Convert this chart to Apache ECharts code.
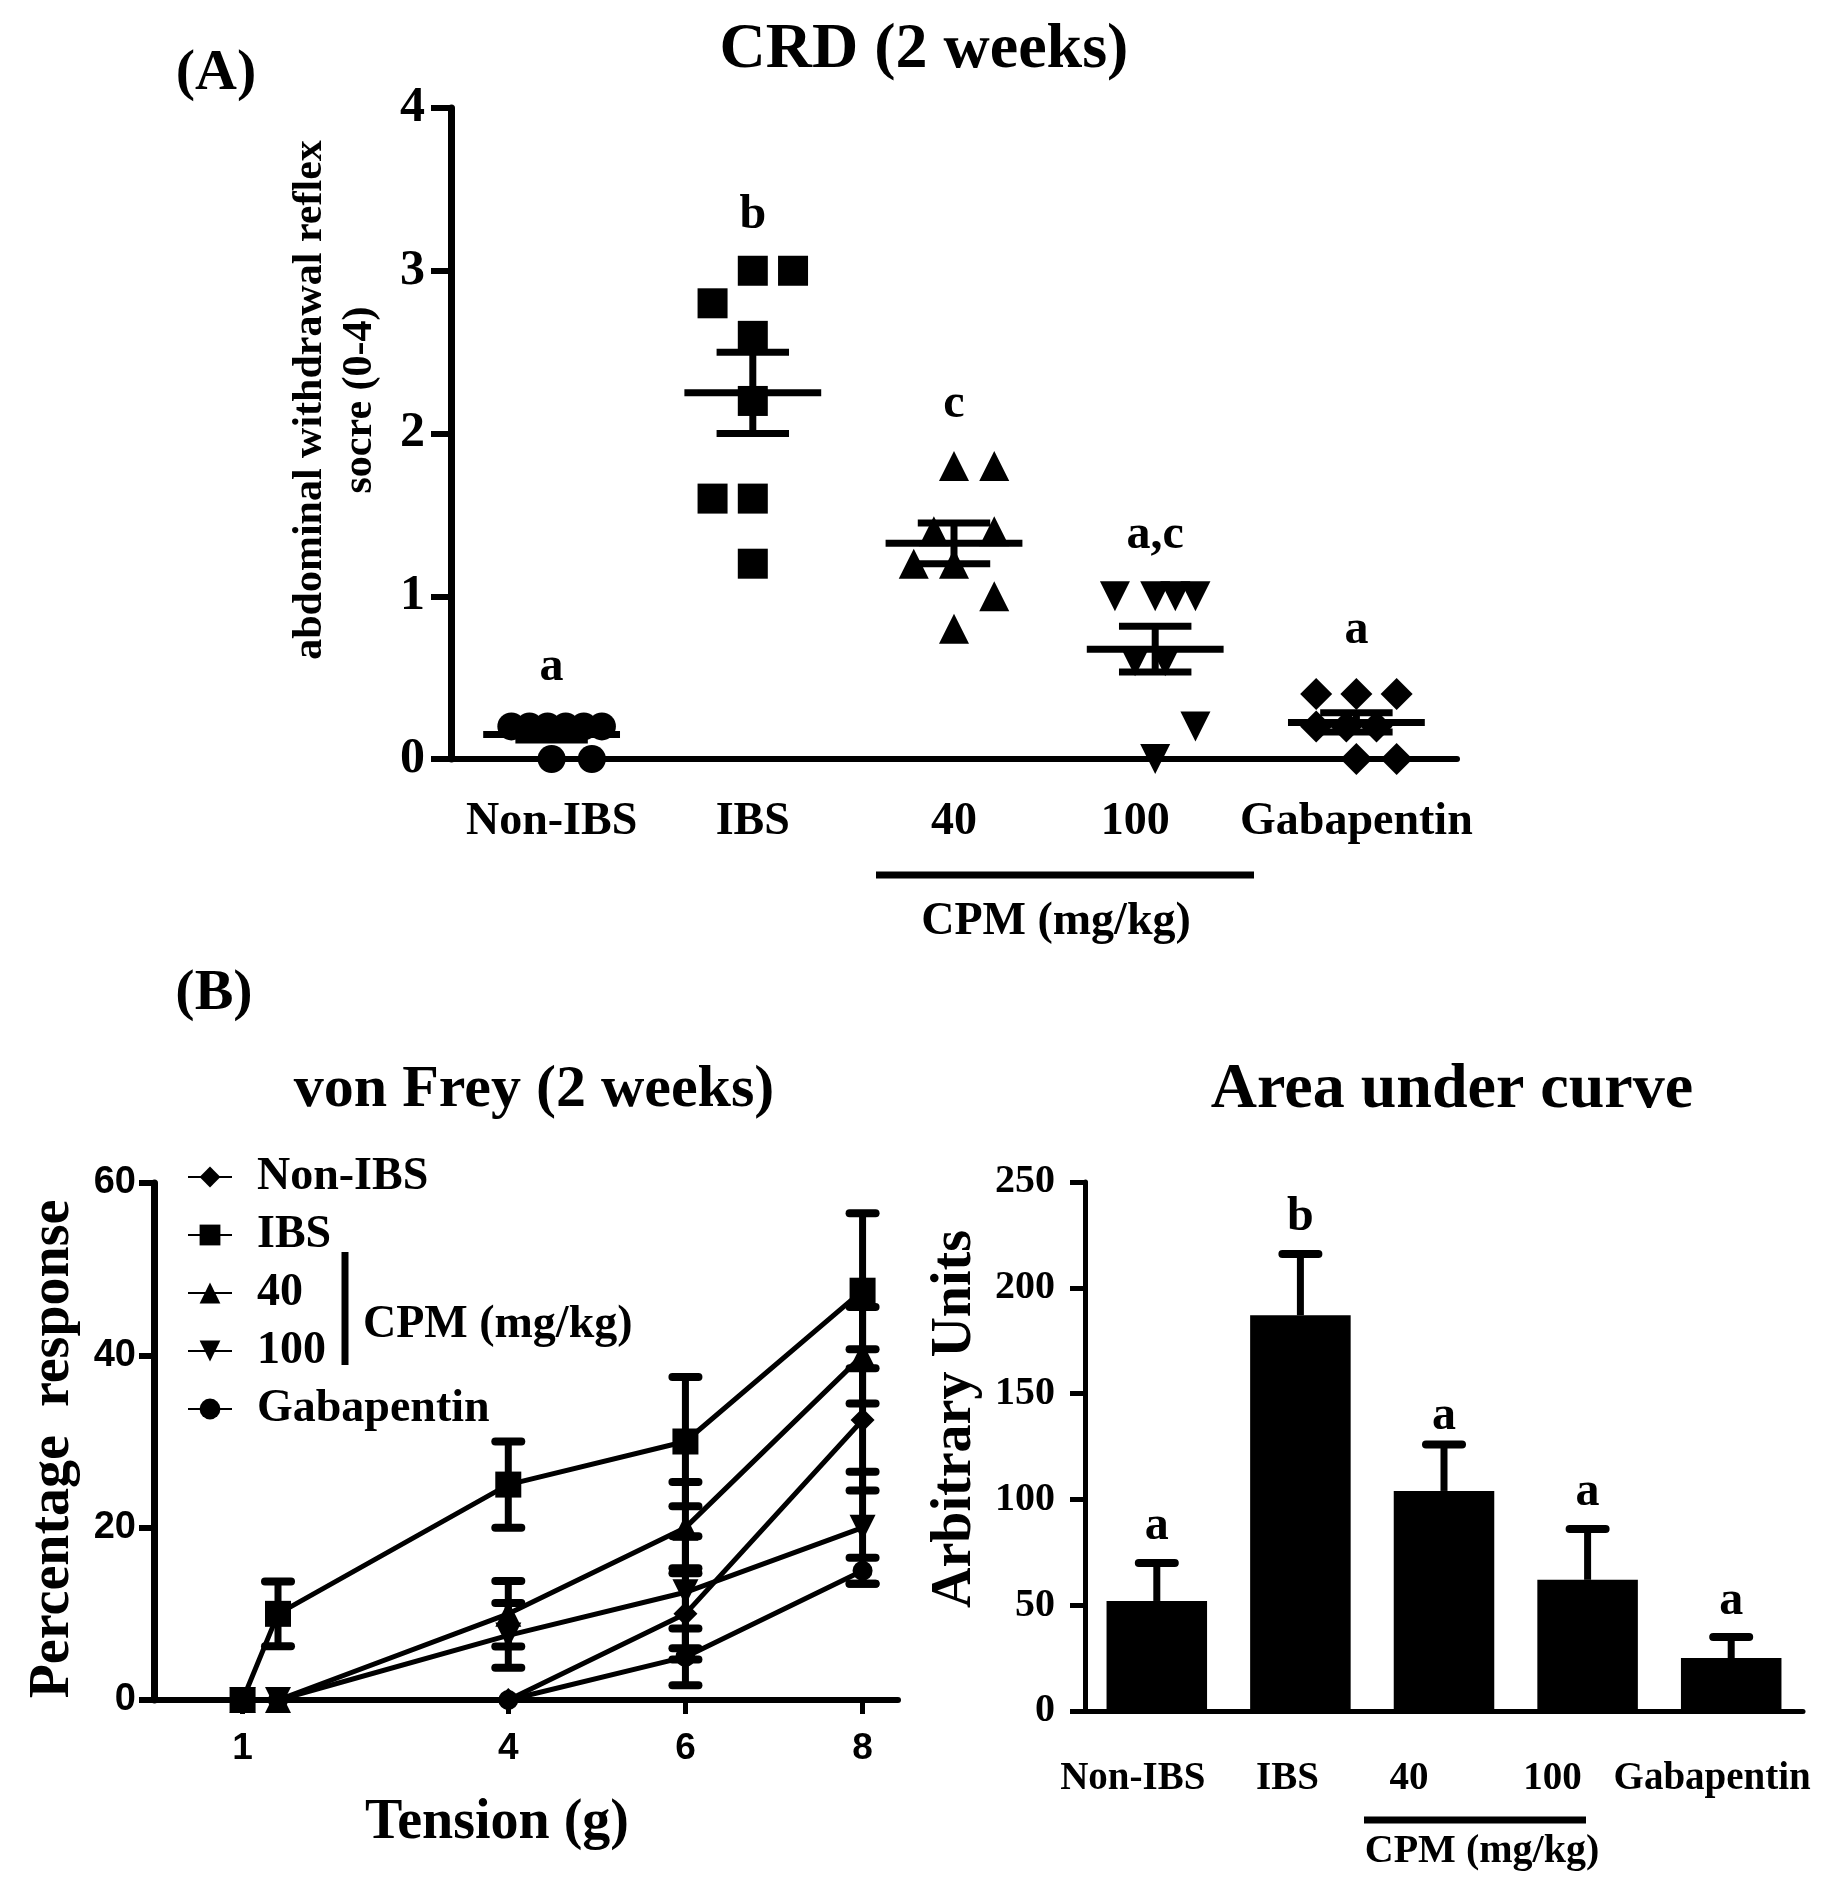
<!DOCTYPE html>
<html><head><meta charset="utf-8">
<script src="https://cdn.jsdelivr.net/npm/echarts@6/dist/echarts.min.js"></script>
<style>html,body{margin:0;padding:0;background:#fff}#c{width:1821px;height:1878px}</style>
</head><body><div id="c"></div>
<script>
// ---------- DATA ----------
const groups = ['Non-IBS', 'IBS', '40', '100', 'Gabapentin'];
// Panel A: individual abdominal withdrawal reflex scores
const crdNonIbs = [0.2, 0.2, 0.2, 0.2, 0.2, 0.2, 0, 0];
const crdIbs = [3, 3, 2.8, 2.6, 2.2, 1.6, 1.6, 1.2];
const crd40 = [1.8, 1.8, 1.4, 1.4, 1.2, 1.2, 1.0, 0.8];
const crd100 = [1, 1, 1, 1, 0.6, 0.6, 0.2, 0];
const crdGaba = [0.4, 0.4, 0.4, 0.2, 0.2, 0.2, 0, 0];
// horizontal spread of the dots inside each group, in category units
const spreadNonIbs = [-0.2, -0.11, -0.02, 0.07, 0.16, 0.25, 0, 0.2];
const spreadIbs = [0, 0.2, -0.2, 0, 0, -0.2, 0, 0];
const spread40 = [0, 0.2, -0.1, 0.2, -0.2, 0, 0.2, 0];
const spread100 = [-0.2, 0, 0.1, 0.2, -0.1, 0.05, 0.2, 0];
const spreadGaba = [-0.2, 0, 0.2, -0.2, -0.05, 0.1, 0, 0.2];
const crdLetters = ['a', 'b', 'c', 'a,c', 'a'];
const crdLetterY = [0.56, 3.34, 2.18, 1.37, 0.79];

// Panel B: von Frey percentage response
const tension = [1, 1.4, 4, 6, 8];
const tensionTicks = [1, 4, 6, 8];
const respNonIbs = [0, 0, 0, 10, 32.5];
const semNonIbs = [0, 0, 0, 5.3, 8.2];
const respIbs = [0, 10, 25, 30, 47.5];
const semIbs = [0, 3.75, 5, 7.5, 9];
const resp40 = [0, 0, 10, 20, 40];
const sem40 = [0, 0, 3.8, 5.3, 5.6];
const resp100 = [0, 0, 7.5, 12.5, 20];
const sem100 = [0, 0, 3.75, 6.5, 6.5];
const respGaba = [0, 0, 0, 5, 15];
const semGaba = [0, 0, 0, 3.3, 1.5];

// Panel B right: area under curve
const aucValues = [52, 187, 104, 62, 25];
const aucSem = [18, 29, 22, 24, 10];
const aucLetters = ['a', 'b', 'a', 'a', 'a'];
const aucLetterY = [87, 233, 139, 103, 51.5];

// ---------- BUILD ----------
const SERIF = '"Liberation Serif","Times New Roman",serif';
const SANS = '"Liberation Sans",Arial,sans-serif';
const BLK = '#000';

function meanSem(arr) {
  const n = arr.length;
  const m = arr.reduce((a, b) => a + b, 0) / n;
  const v = arr.reduce((a, b) => a + (b - m) * (b - m), 0) / (n - 1);
  return [m, Math.sqrt(v) / Math.sqrt(n)];
}
const crdSets = [crdNonIbs, crdIbs, crd40, crd100, crdGaba];
const spreads = [spreadNonIbs, spreadIbs, spread40, spread100, spreadGaba];
const crdSymbols = ['circle', 'rect', 'triangle', 'path://M0,0 L10,0 L5,9 Z', 'diamond'];
const crdSizes = [28, 30, 30, 30, 32];

const seg = (a, b, w) => ({ type: 'line', shape: { x1: a[0], y1: a[1], x2: b[0], y2: b[1] }, style: { stroke: BLK, lineWidth: w, lineCap: 'butt' } });

const series = [];
// Panel A scatter
crdSets.forEach((vals, gi) => {
  series.push({
    name: 'crd-' + groups[gi], type: 'scatter', xAxisIndex: 1, yAxisIndex: 0,
    symbol: crdSymbols[gi], symbolSize: crdSizes[gi], itemStyle: { color: BLK, opacity: 1 },
    data: vals.map((v, i) => [gi + spreads[gi][i], v]), z: 3, silent: true
  });
});
// Panel A mean +/- SEM
series.push({
  name: 'crd-mean', type: 'custom', xAxisIndex: 1, yAxisIndex: 0, z: 4, silent: true,
  data: crdSets.map((vals, gi) => { const ms = meanSem(vals); return [gi, ms[0], ms[1]]; }),
  encode: { x: 0, y: 1 },
  renderItem: (p, api) => {
    const i = api.value(0), m = api.value(1), s = api.value(2);
    const c = (x, y) => api.coord([x, y]);
    return { type: 'group', children: [
      seg(c(i - 0.34, m), c(i + 0.34, m), 7),
      seg(c(i, m - s), c(i, m + s), 7),
      seg(c(i - 0.18, m + s), c(i + 0.18, m + s), 7),
      seg(c(i - 0.18, m - s), c(i + 0.18, m - s), 7)
    ] };
  }
});
// Panel A letters
series.push({
  name: 'crd-letters', type: 'custom', xAxisIndex: 1, yAxisIndex: 0, z: 5, silent: true,
  data: crdLetterY.map((y, i) => [i, y]), encode: { x: 0, y: 1 },
  renderItem: (p, api) => {
    const c = api.coord([api.value(0), api.value(1)]);
    return { type: 'text', x: c[0], y: c[1], style: { text: crdLetters[p.dataIndex], font: 'bold 48px ' + SERIF, fill: BLK, align: 'center', verticalAlign: 'middle' } };
  }
});

// Panel B line chart
const lineSets = [
  ['Non-IBS', respNonIbs, semNonIbs, 'diamond', 24],
  ['IBS', respIbs, semIbs, 'rect', 26],
  ['40', resp40, sem40, 'triangle', 26],
  ['100', resp100, sem100, 'path://M0,0 L10,0 L5,9 Z', 26],
  ['Gabapentin', respGaba, semGaba, 'circle', 20]
];
lineSets.forEach(([name, vals, sems]) => {
  series.push({
    name: name + '-err', type: 'custom', xAxisIndex: 2, yAxisIndex: 1, z: 2, silent: true,
    data: vals.map((v, i) => [tension[i], v, sems[i]]), encode: { x: 0, y: 1 },
    renderItem: (p, api) => {
      const x = api.value(0), m = api.value(1), s = api.value(2);
      if (!s) return null;
      const t = api.coord([x, m + s]), b = api.coord([x, m - s]);
      const capS = { stroke: BLK, lineWidth: 8, lineCap: 'round' };
      return { type: 'group', children: [
        seg(t, b, 7),
        { type: 'line', shape: { x1: t[0] - 13, y1: t[1], x2: t[0] + 13, y2: t[1] }, style: capS },
        { type: 'line', shape: { x1: b[0] - 13, y1: b[1], x2: b[0] + 13, y2: b[1] }, style: capS }
      ] };
    }
  });
});
// draw IBS last so its square sits on top at x=1
[0, 2, 3, 4, 1].forEach(k => {
  const [name, vals, , sym, size] = lineSets[k];
  series.push({
    name: name, type: 'line', xAxisIndex: 2, yAxisIndex: 1, z: 3,
    symbol: sym, symbolSize: size, showAllSymbol: true,
    lineStyle: { color: BLK, width: 5 }, itemStyle: { color: BLK, opacity: 1 },
    data: vals.map((v, i) => [tension[i], v]), silent: true
  });
});

// Panel B bars
series.push({
  name: 'AUC', type: 'bar', xAxisIndex: 3, yAxisIndex: 2, barWidth: '70%',
  itemStyle: { color: BLK }, data: aucValues, z: 2, silent: true
});
series.push({
  name: 'AUC-err', type: 'custom', xAxisIndex: 3, yAxisIndex: 2, z: 3, silent: true,
  data: aucValues.map((v, i) => [i, v, aucSem[i]]), encode: { x: 0, y: 1 },
  renderItem: (p, api) => {
    const i = api.value(0), v = api.value(1), s = api.value(2);
    const b = api.coord([i, v]), t = api.coord([i, v + s]);
    return { type: 'group', children: [
      seg(b, t, 7),
      { type: 'line', shape: { x1: t[0] - 18, y1: t[1], x2: t[0] + 18, y2: t[1] }, style: { stroke: BLK, lineWidth: 8, lineCap: 'round' } }
    ] };
  }
});
series.push({
  name: 'AUC-letters', type: 'custom', xAxisIndex: 3, yAxisIndex: 2, z: 5, silent: true,
  data: aucLetterY.map((y, i) => [i, y]), encode: { x: 0, y: 1 },
  renderItem: (p, api) => {
    const c = api.coord([api.value(0), api.value(1)]);
    return { type: 'text', x: c[0], y: c[1], style: { text: aucLetters[p.dataIndex], font: 'bold 48px ' + SERIF, fill: BLK, align: 'center', verticalAlign: 'middle' } };
  }
});

const axLine = w => ({ show: true, onZero: false, lineStyle: { color: BLK, width: w } });
const txt = (t, x, y, size, extra) => Object.assign({
  type: 'text', x: x, y: y, silent: true,
  style: { text: t, font: 'bold ' + size + 'px ' + SERIF, fill: BLK, align: 'center', verticalAlign: 'middle' }
}, extra || {});

// per-category label nudges (style only)
const richA = { c0: {}, c1: {}, c2: {}, c3: { padding: [0, 40, 0, 0] }, c4: {} };
const richAuc = { c0: { padding: [0, 48, 0, 0] }, c1: { padding: [0, 26, 0, 0] }, c2: { padding: [0, 70, 0, 0] }, c3: { padding: [0, 70, 0, 0] }, c4: { padding: [0, 38, 0, 0] } };
Object.values(richA).forEach(r => Object.assign(r, { fontFamily: SERIF, fontWeight: 'bold', fontSize: 46, color: BLK }));
Object.values(richAuc).forEach(r => Object.assign(r, { fontFamily: SERIF, fontWeight: 'bold', fontSize: 39, color: BLK }));

const option = {
  backgroundColor: '#fff',
  animation: false,
  grid: [
    { left: 451, top: 108, width: 1006, height: 651 },
    { left: 154, top: 1183, width: 744, height: 517 },
    { left: 1085, top: 1182, width: 718, height: 529 }
  ],
  xAxis: [
    { gridIndex: 0, type: 'category', data: groups, boundaryGap: true,
      axisLine: axLine(6), axisTick: { alignWithLabel: true, length: 22, lineStyle: { color: BLK, width: 5 } },
      axisLabel: { margin: 40, formatter: (v, i) => '{c' + i + '|' + v + '}', rich: richA },
      splitLine: { show: false } },
    { gridIndex: 0, type: 'value', min: -0.5, max: 4.5, show: false },
    { gridIndex: 1, type: 'value', min: 0, max: 8.4,
      axisLine: axLine(6),
      axisTick: { customValues: tensionTicks, length: 14, lineStyle: { color: BLK, width: 5 } },
      axisLabel: { customValues: tensionTicks, margin: 30, fontFamily: SANS, fontWeight: 'bold', fontSize: 37, color: BLK },
      splitLine: { show: false } },
    { gridIndex: 2, type: 'category', data: groups, boundaryGap: true,
      axisLine: axLine(5), axisTick: { alignWithLabel: true, length: 15, lineStyle: { color: BLK, width: 3 } },
      axisLabel: { margin: 48, formatter: (v, i) => '{c' + i + '|' + v + '}', rich: richAuc },
      splitLine: { show: false } }
  ],
  yAxis: [
    { gridIndex: 0, type: 'value', min: 0, max: 4, interval: 1,
      axisLine: axLine(7), axisTick: { show: true, length: 20, lineStyle: { color: BLK, width: 6 } },
      axisLabel: { margin: 26, fontFamily: SERIF, fontWeight: 'bold', fontSize: 50, color: BLK },
      splitLine: { show: false } },
    { gridIndex: 1, type: 'value', min: 0, max: 60, interval: 20,
      axisLine: axLine(7), axisTick: { show: true, length: 15, lineStyle: { color: BLK, width: 6 } },
      axisLabel: { margin: 18, fontFamily: SANS, fontWeight: 'bold', fontSize: 38, color: BLK },
      splitLine: { show: false } },
    { gridIndex: 2, type: 'value', min: 0, max: 250, interval: 50,
      axisLine: axLine(5), axisTick: { show: true, length: 15, lineStyle: { color: BLK, width: 5 } },
      axisLabel: { margin: 30, fontFamily: SERIF, fontWeight: 'bold', fontSize: 40, color: BLK },
      splitLine: { show: false } }
  ],
  legend: {
    data: ['Non-IBS', 'IBS', '40', '100', 'Gabapentin'],
    orient: 'vertical', left: 182, top: 1149, itemWidth: 44, itemHeight: 26, itemGap: 12,
    selectedMode: false,
    textStyle: { fontFamily: SERIF, fontWeight: 'bold', fontSize: 46, lineHeight: 46, color: BLK, padding: [0, 0, 0, 20] }
  },
  graphic: [
    txt('(A)', 216, 74, 58),
    txt('CRD (2 weeks)', 924, 50, 64),
    txt('abdominal withdrawal reflex\nsocre (0-4)', 335, 400, 42, { rotation: Math.PI / 2, style: { text: 'abdominal withdrawal reflex\nsocre (0-4)', font: 'bold 42px ' + SERIF, fill: BLK, align: 'center', verticalAlign: 'middle', lineHeight: 50 } }),
    { type: 'line', silent: true, shape: { x1: 876, y1: 875, x2: 1254, y2: 875 }, style: { stroke: BLK, lineWidth: 7 } },
    txt('CPM (mg/kg)', 1056, 922, 46),
    txt('(B)', 214, 994, 58),
    txt('von Frey (2 weeks)', 534, 1090, 60),
    txt('Area under curve', 1452, 1090, 64),
    txt('Percentage  response', 54, 1449, 56, { rotation: Math.PI / 2 }),
    txt('Tension (g)', 497, 1824, 56),
    txt('Arbitrary Units', 956, 1419, 56, { rotation: Math.PI / 2 }),
    { type: 'line', silent: true, shape: { x1: 345, y1: 1252, x2: 345, y2: 1365 }, style: { stroke: BLK, lineWidth: 7 } },
    txt('CPM (mg/kg)', 363, 1325, 46, { style: { text: 'CPM (mg/kg)', font: 'bold 46px ' + SERIF, fill: BLK, align: 'left', verticalAlign: 'middle' } }),
    { type: 'line', silent: true, shape: { x1: 1364, y1: 1820, x2: 1586, y2: 1820 }, style: { stroke: BLK, lineWidth: 7 } },
    txt('CPM (mg/kg)', 1482, 1852, 40)
  ],
  series: series
};
const chart = echarts.init(document.getElementById('c'), null, { width: 1821, height: 1878, renderer: 'canvas' });
chart.setOption(option);
</script>
</body></html>
